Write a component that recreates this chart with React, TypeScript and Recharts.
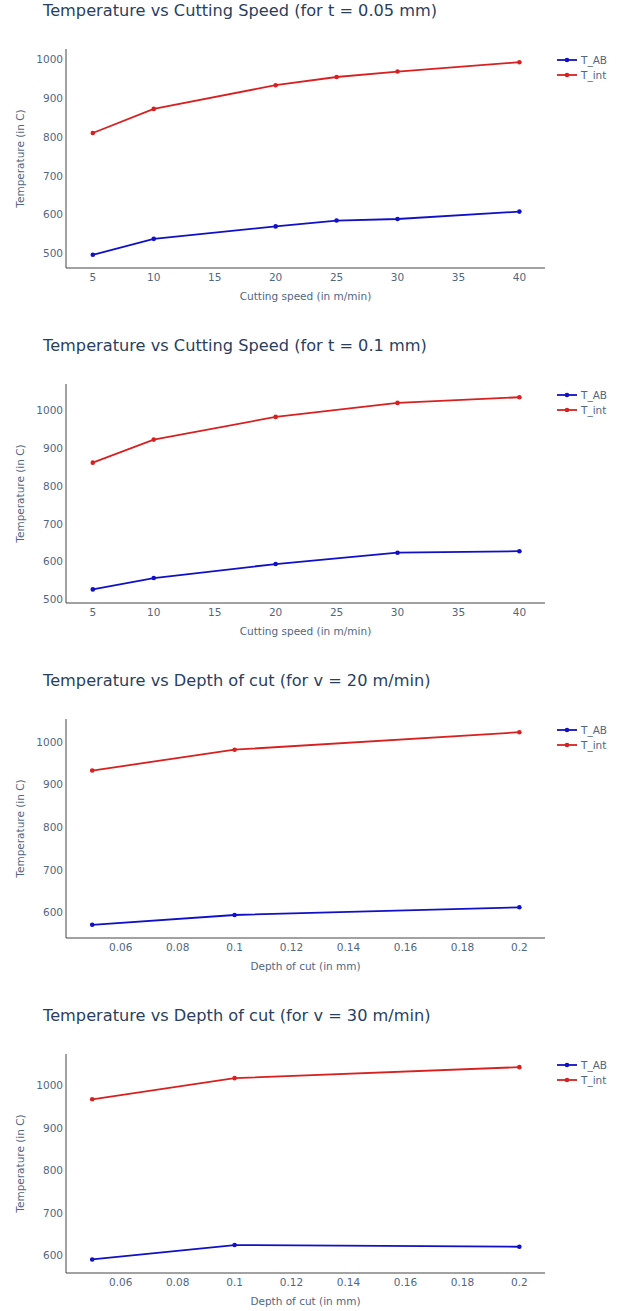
import { LineChart, Line, XAxis, YAxis } from "recharts";

// chart 1: t = 0.05 mm
const speeds1 = [5, 10, 20, 25, 30, 40];
const tAB1 = [497, 538, 570, 585, 589, 608];
const tInt1 = [810, 872, 933, 954, 968, 992];

// chart 2: t = 0.1 mm
const speeds2 = [5, 10, 20, 30, 40];
const tAB2 = [527, 557, 594, 624, 628];
const tInt2 = [862, 923, 983, 1020, 1035];

// charts 3 & 4: depth of cut
const depths = [0.05, 0.1, 0.2];
const tAB3 = [571, 594, 612];
const tInt3 = [933, 982, 1023];
const tAB4 = [590, 624, 620];
const tInt4 = [968, 1018, 1044];

const speedTicks = [5, 10, 15, 20, 25, 30, 35, 40];
const depthTicks = [0.06, 0.08, 0.1, 0.12, 0.14, 0.16, 0.18, 0.2];

const BLUE = "#1010c8";
const RED = "#d92020";
const FONT = '"DejaVu Sans", verdana, arial, sans-serif';
const TICK = "#506784";
const TITLE = "#2a3f5f";

const W = 623;
const H = 335;

type PanelProps = {
  title: string;
  xs: number[];
  ab: number[];
  tint: number[];
  xTitle: string;
  xDomain: [number, number];
  xTicks: number[];
  yDomain: [number, number];
  yTicks: number[];
};

function Panel({ title, xs, ab, tint, xTitle, xDomain, xTicks, yDomain, yTicks }: PanelProps) {
  const data = xs.map((x, i) => ({ x, T_AB: ab[i], T_int: tint[i] }));
  return (
    <div style={{ position: "relative", width: W, height: H }}>
      <div
        style={{
          position: "absolute",
          left: 43,
          top: 4,
          fontFamily: FONT,
          fontSize: 16.2,
          color: TITLE,
          whiteSpace: "nowrap",
          lineHeight: "22px",
        }}
      >
        {title}
      </div>

      {/* legend */}
      <div style={{ position: "absolute", left: 557, top: 56, fontFamily: FONT, fontSize: 10.5, color: TICK }}>
        {[
          { name: "T_AB", c: BLUE },
          { name: "T_int", c: RED },
        ].map((s) => (
          <div key={s.name} style={{ display: "flex", alignItems: "center", height: 15 }}>
            <svg width={20} height={8} style={{ marginRight: 4 }}>
              <line x1={0} y1={4} x2={20} y2={4} stroke={s.c} strokeWidth={1.8} />
              <circle cx={10} cy={4} r={2.3} fill={s.c} />
            </svg>
            {s.name}
          </div>
        ))}
      </div>

      <LineChart width={W} height={H} data={data} margin={{ top: 53, right: 78, bottom: 0, left: 0 }}>
        <XAxis
          dataKey="x"
          type="number"
          domain={xDomain}
          ticks={xTicks}
          allowDataOverflow
          interval={0}
          height={63}
          tickSize={0}
          tickMargin={6}
          tickLine={false}
          stroke="#444"
          tick={{ fill: TICK, fontSize: 10.5, fontFamily: FONT }}
          tickFormatter={(v: number) => String(Number(v.toFixed(2)))}
          label={{
            value: xTitle,
            position: "insideTop",
            offset: 25,
            style: { fill: TICK, fontSize: 10.5, fontFamily: FONT },
          }}
        />
        <YAxis
          type="number"
          domain={yDomain}
          ticks={yTicks}
          allowDataOverflow
          interval={0}
          width={66}
          tickSize={0}
          tickMargin={3}
          tickLine={false}
          stroke="#444"
          tick={{ fill: TICK, fontSize: 10.5, fontFamily: FONT }}
          label={{
            content: (props: any) => {
              const vb = props.viewBox || { x: 0, y: 53, width: 66, height: 219 };
              const cx = vb.x + 20;
              const cy = vb.y + vb.height / 2;
              return (
                <text
                  x={cx}
                  y={cy}
                  transform={`rotate(-90 ${cx} ${cy})`}
                  textAnchor="middle"
                  dominantBaseline="central"
                  fill={TICK}
                  fontSize={10.5}
                  fontFamily={FONT}
                >
                  Temperature (in C)
                </text>
              );
            },
          }}
        />
        <Line
          dataKey="T_AB"
          stroke={BLUE}
          strokeWidth={1.8}
          dot={{ r: 2.3, fill: BLUE, stroke: BLUE, strokeWidth: 0 }}
          isAnimationActive={false}
        />
        <Line
          dataKey="T_int"
          stroke={RED}
          strokeWidth={1.8}
          dot={{ r: 2.3, fill: RED, stroke: RED, strokeWidth: 0 }}
          isAnimationActive={false}
        />
      </LineChart>
    </div>
  );
}

export default function App() {
  return (
    <div style={{ width: W, marginTop: -4, background: "#fff" }}>
      <style>{`body{margin:0;background:#fff}`}</style>
      <Panel
        title="Temperature vs Cutting Speed (for t = 0.05 mm)"
        xs={speeds1}
        ab={tAB1}
        tint={tInt1}
        xTitle="Cutting speed (in m/min)"
        xDomain={[2.8, 42.1]}
        xTicks={speedTicks}
        yDomain={[463, 1026]}
        yTicks={[500, 600, 700, 800, 900, 1000]}
      />
      <Panel
        title="Temperature vs Cutting Speed (for t = 0.1 mm)"
        xs={speeds2}
        ab={tAB2}
        tint={tInt2}
        xTitle="Cutting speed (in m/min)"
        xDomain={[2.8, 42.1]}
        xTicks={speedTicks}
        yDomain={[491, 1070]}
        yTicks={[500, 600, 700, 800, 900, 1000]}
      />
      <Panel
        title="Temperature vs Depth of cut (for v = 20 m/min)"
        xs={depths}
        ab={tAB3}
        tint={tInt3}
        xTitle="Depth of cut (in mm)"
        xDomain={[0.0408, 0.209]}
        xTicks={depthTicks}
        yDomain={[540, 1054]}
        yTicks={[600, 700, 800, 900, 1000]}
      />
      <Panel
        title="Temperature vs Depth of cut (for v = 30 m/min)"
        xs={depths}
        ab={tAB4}
        tint={tInt4}
        xTitle="Depth of cut (in mm)"
        xDomain={[0.0408, 0.209]}
        xTicks={depthTicks}
        yDomain={[558, 1075]}
        yTicks={[600, 700, 800, 900, 1000]}
      />
    </div>
  );
}
